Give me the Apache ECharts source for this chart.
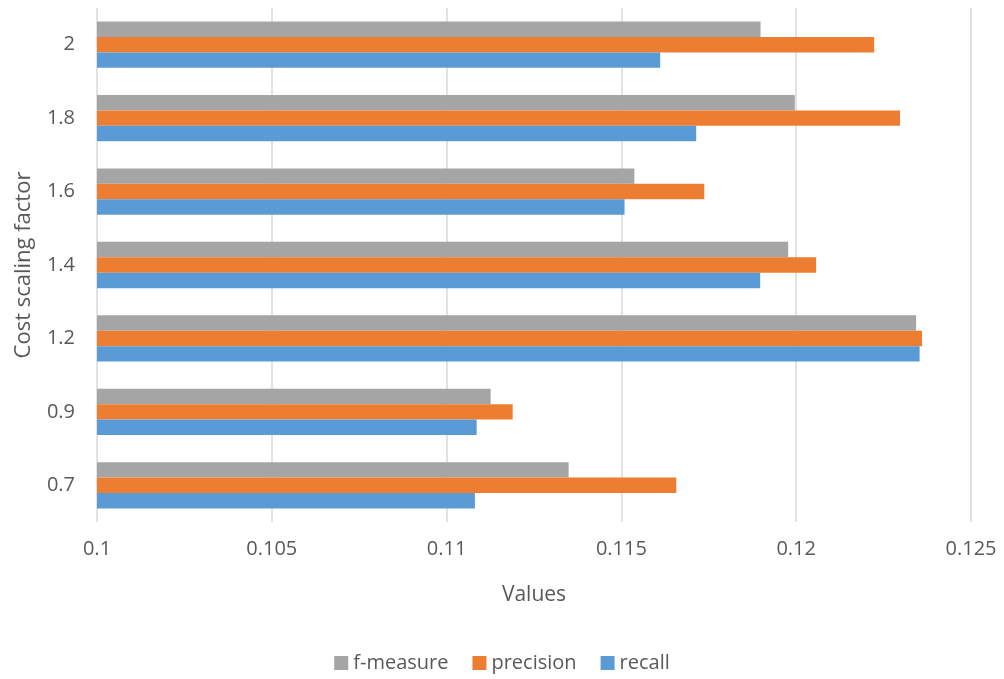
<!DOCTYPE html>
<html>
<head>
<meta charset="utf-8">
<script src="https://cdn.jsdelivr.net/npm/echarts@6/dist/echarts.min.js"></script>
<style>
html,body{margin:0;padding:0;background:#fff;}
#chart{width:1004px;height:679px;}
</style>
</head>
<body>
<div id="chart"></div>
<script>
const categories = ['0.7', '0.9', '1.2', '1.4', '1.6', '1.8', '2'];
const fMeasure = [0.11349, 0.11126, 0.12343, 0.11977, 0.11537, 0.11996, 0.11898];
const precision = [0.11657, 0.11189, 0.12360, 0.12057, 0.11737, 0.12297, 0.12223];
const recall = [0.11081, 0.11086, 0.12353, 0.11897, 0.11509, 0.11714, 0.11611];
const xTicks = { min: 0.1, max: 0.125, interval: 0.005 };

const FONT = '"Open Sans", sans-serif';
const TXT = '#595959';
const chart = echarts.init(document.getElementById('chart'), null, { renderer: 'canvas' });
chart.setOption({
  animation: false,
  backgroundColor: '#ffffff',
  textStyle: { fontFamily: FONT },
  grid: { left: 97, right: 33, top: 8, bottom: 157, containLabel: false },
  legend: {
    bottom: 1,
    left: 'center',
    itemWidth: 14,
    itemHeight: 14,
    itemGap: 24,
    icon: 'rect',
    textStyle: { color: TXT, fontSize: 20, fontFamily: FONT },
    data: ['f-measure', 'precision', 'recall']
  },
  xAxis: {
    type: 'value',
    min: xTicks.min,
    max: xTicks.max,
    interval: xTicks.interval,
    name: 'Values',
    nameLocation: 'middle',
    nameGap: 63,
    nameTextStyle: { color: TXT, fontSize: 21, fontFamily: FONT },
    axisLine: { show: false },
    axisTick: { show: false },
    axisLabel: { color: TXT, fontSize: 20, fontFamily: FONT, margin: 17 },
    splitLine: { show: true, lineStyle: { color: '#d9d9d9', width: 1.5 } }
  },
  yAxis: {
    type: 'category',
    data: categories,
    name: 'Cost scaling factor',
    nameLocation: 'middle',
    nameGap: 62,
    nameTextStyle: { color: TXT, fontSize: 22, fontFamily: FONT },
    axisLine: { show: false },
    axisTick: { show: false },
    axisLabel: { color: TXT, fontSize: 20, fontFamily: FONT, margin: 22 },
    splitLine: { show: false }
  },
  series: [
    { name: 'f-measure', type: 'bar', data: fMeasure, itemStyle: { color: '#A5A5A5' }, barGap: '0%', barCategoryGap: '37%' },
    { name: 'precision', type: 'bar', data: precision, itemStyle: { color: '#ED7D31' }, barGap: '0%', barCategoryGap: '37%' },
    { name: 'recall', type: 'bar', data: recall, itemStyle: { color: '#5B9BD5' }, barGap: '0%', barCategoryGap: '37%' }
  ]
});
</script>
</body>
</html>
